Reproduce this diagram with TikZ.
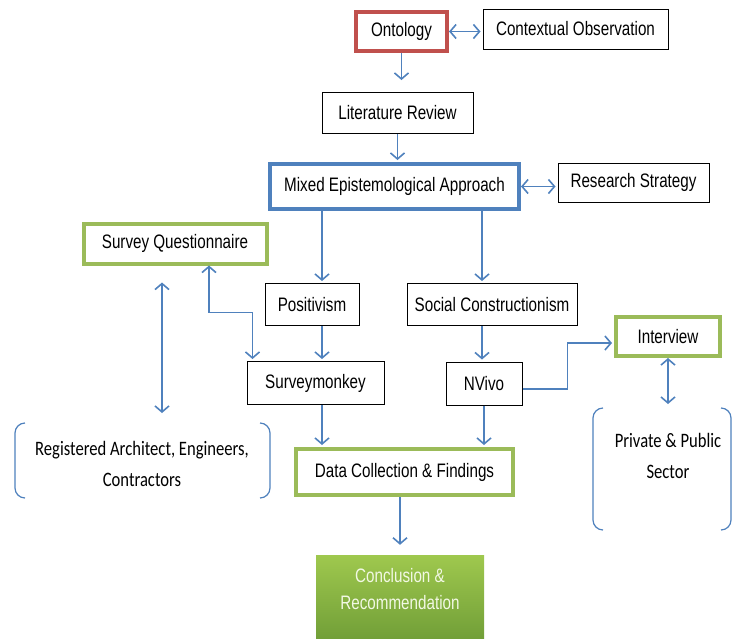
\documentclass[tikz,border=0pt]{standalone}
\usepackage{fontspec}
\setmainfont{Liberation Sans}[FakeStretch=0.78]
\newfontfamily\calfont{Carlito}[FakeStretch=0.81]
\usepackage{xcolor}
\usetikzlibrary{arrows.meta,calc,positioning}
\definecolor{offblue}{HTML}{4F81BD}
\definecolor{offred}{HTML}{C0504D}
\definecolor{offgreen}{HTML}{9BBB59}
\definecolor{concTop}{HTML}{9FC84E}
\definecolor{concBot}{HTML}{6E9C36}
\definecolor{concInk}{HTML}{F2F8E4}
\tikzset{
  box/.style={draw=black, line width=1pt, minimum height=41, inner sep=2pt,
    font=\fontsize{19.5}{22}\selectfont},
  redbox/.style={box, draw=offred, line width=4pt},
  bluebox/.style={box, draw=offblue, line width=4pt},
  greenbox/.style={box, draw=offgreen, line width=4pt},
  concbox/.style={draw=none, top color=concTop, bottom color=concBot},
  conctext/.style={align=center, text=concInk, font=\fontsize{19.5}{27}\selectfont},
  grouptext/.style={align=center, font=\calfont\fontsize{20.5}{31}\selectfont},
  bracket/.style={draw=offblue, line width=1.2pt, rounded corners=10},
  arr/.style={draw=offblue, line width=1.6pt, -{Straight Barb[length=6pt,width=14pt]}, shorten >=2pt},
  dblarr/.style={arr, {Straight Barb[length=6pt,width=14pt]}-{Straight Barb[length=6pt,width=14pt]}}
}
\begin{document}
\begin{tikzpicture}[x=1pt,y=-1pt]
\useasboundingbox (0,0) rectangle (734,638);
% top of the study
\node[redbox, minimum width=91, minimum height=39] (ont) at (401.5,31.5) {Ontology};
\node[box, minimum width=185, minimum height=40] (ctx) at (575.5,29) {Contextual Observation};
\node[box, minimum width=151] (lit) at (397.5,113) {Literature Review};
\node[bluebox, minimum width=249, minimum height=45] (mix) at (394.5,186.5) {Mixed Epistemological Approach};
\node[box, minimum width=151, minimum height=39] (rs) at (633.5,182.5) {Research Strategy};
% methods
\node[greenbox, minimum width=183, minimum height=40] (sq) at (175,243.5) {Survey Questionnaire};
\node[box, minimum width=94, minimum height=42] (pos) at (312,304.5) {Positivism};
\node[box, minimum width=170, minimum height=42] (soc) at (492,304.5) {Social Constructionism};
\node[box, minimum width=137, minimum height=43] (sm) at (315.5,383) {Surveymonkey};
\node[box, minimum width=76, minimum height=43] (nv) at (484,383.5) {NVivo};
\node[greenbox, minimum width=104, minimum height=39] (intv) at (668,336.5) {Interview};
\node[greenbox, minimum width=217, minimum height=46] (data) at (404.5,472) {Data Collection \& Findings};
\node[concbox, minimum width=168, minimum height=90] (conc) at (400,600) {};
\node[conctext] (concT) at (400,589.5) {Conclusion \&\\Recommendation};
% respondents
\coordinate (regNW) at (15,423);
\coordinate (regSE) at (270,498);
\node[grouptext] (reg) at (142,464) {Registered Architect, Engineers,\\Contractors};
\coordinate (privNW) at (593,408);
\coordinate (privSE) at (731,530);
\node[grouptext] (priv) at (668,456) {Private \& Public\\Sector};
\draw[bracket] ($(regNW)+(10,0)$) -- (regNW) -- (regNW |- regSE) -- ++(10,0);
\draw[bracket] ($(regSE |- regNW)+(-10,0)$) -- (regSE |- regNW) -- (regSE) -- ++(-10,0);
\draw[bracket] ($(privNW)+(10,0)$) -- (privNW) -- (privNW |- privSE) -- ++(10,0);
\draw[bracket] ($(privSE |- privNW)+(-10,0)$) -- (privSE |- privNW) -- (privSE) -- ++(-10,0);
% arrows
\draw[dblarr] (ont.east) -- (ont.east -| ctx.west);
\draw[arr, shorten >=12pt] (ont.south) -- (ont.south |- lit.north);
\draw[arr] (lit.south) -- (lit.south |- mix.north);
\draw[dblarr] (mix.east) -- (mix.east -| rs.west);
\draw[arr] ([xshift=10]pos.north |- mix.south) -- ([xshift=10]pos.north);
\draw[arr] ([xshift=-10]soc.north |- mix.south) -- ([xshift=-10]soc.north);
\draw[arr] ([xshift=10]pos.south) -- ([xshift=10]pos.south |- sm.north);
\draw[arr] ([xshift=-10]soc.south) -- ([xshift=-10]soc.south |- nv.north);
\draw[arr] ([xshift=6.5]sm.south) -- ([xshift=6.5]sm.south |- data.north);
\draw[arr] (nv.south) -- (nv.south |- data.north);
\draw[arr, shorten >=10pt] ([xshift=-4.5]data.south) -- ([xshift=-4.5]data.south |- conc.north);
\draw[dblarr] ([xshift=34]sq.south) -- ++(0,47) -| ([xshift=6]sm.north west);
\draw[arr] ([yshift=-5.5]nv.east) -- ++(45,0) |- ([yshift=-6.5]intv.west);
\draw[dblarr, shorten >=4pt] (intv.south) -- (intv.south |- privNW);
\draw[dblarr] ($(sq.south)+(-13,17)$) -- ($(sq.south |- regNW)+(-13,-8)$);
\end{tikzpicture}
\end{document}
